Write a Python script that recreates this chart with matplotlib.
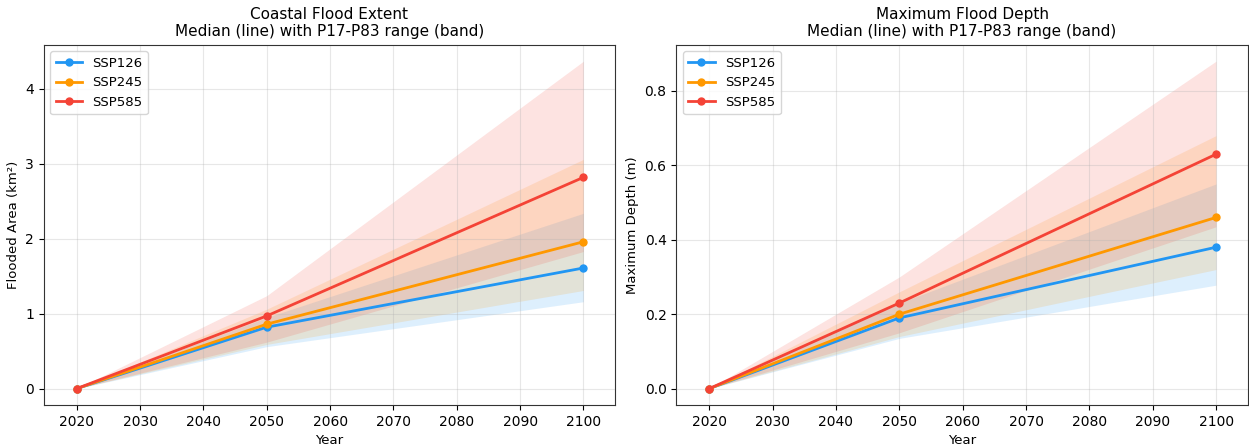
import matplotlib
matplotlib.use('Agg')
import matplotlib.pyplot as plt

# -------------------------------------------------------------------------------

years = [2020, 2050, 2100]
scenarios = ['SSP126', 'SSP245', 'SSP585']

COLORS = {
    'SSP126': '#2196F3',  # blue
    'SSP245': '#FF9800',  # orange
    'SSP585': '#F44336',  # red
}

# flooded area (km2): median, P17, P83
area_med = {
    'SSP126': [0, 0.82, 1.61],
    'SSP245': [0, 0.86, 1.96],
    'SSP585': [0, 0.97, 2.82],
}
area_lo = {
    'SSP126': [0, 0.56, 1.16],
    'SSP245': [0, 0.59, 1.31],
    'SSP585': [0, 0.62, 1.83],
}
area_hi = {
    'SSP126': [0, 0.95, 2.34],
    'SSP245': [0, 1.06, 3.06],
    'SSP585': [0, 1.24, 4.37],
}

# maximum depth (m): median, P17, P83
depth_med = {
    'SSP126': [0, 0.19, 0.38],
    'SSP245': [0, 0.20, 0.46],
    'SSP585': [0, 0.23, 0.63],
}
depth_lo = {
    'SSP126': [0, 0.135, 0.278],
    'SSP245': [0, 0.14, 0.32],
    'SSP585': [0, 0.15, 0.435],
}
depth_hi = {
    'SSP126': [0, 0.23, 0.55],
    'SSP245': [0, 0.26, 0.68],
    'SSP585': [0, 0.30, 0.88],
}

# -------------------------------------------------------------------------------

def panel(ax, med, lo, hi, title, ylabel):
    for s in scenarios:
        c = COLORS[s]
        ax.fill_between(years, lo[s], hi[s], color=c, alpha=0.15, linewidth=0)
        ax.plot(years, med[s], '-o', color=c, lw=2, ms=5, label=s)
    ax.set_title(title + '\nMedian (line) with P17-P83 range (band)', fontsize=11)
    ax.set_xlabel('Year', fontsize=9.5)
    ax.set_ylabel(ylabel, fontsize=9.5)
    ax.set_xticks(range(2020, 2101, 10))
    ax.set_xlim(2014.8, 2105)
    ax.grid(True, alpha=0.3)
    for sp in ax.spines.values():
        sp.set_color('#333333')
    ax.legend(loc='upper left', fontsize=9.5)


fig, axes = plt.subplots(1, 2, figsize=(12.49, 4.48), dpi=100)
panel(axes[0], area_med, area_lo, area_hi, 'Coastal Flood Extent', 'Flooded Area (km²)')
panel(axes[1], depth_med, depth_lo, depth_hi, 'Maximum Flood Depth', 'Maximum Depth (m)')
plt.subplots_adjust(left=0.035, right=0.999, top=0.9, bottom=0.096, wspace=0.107)
plt.savefig('out.png', dpi=100)
